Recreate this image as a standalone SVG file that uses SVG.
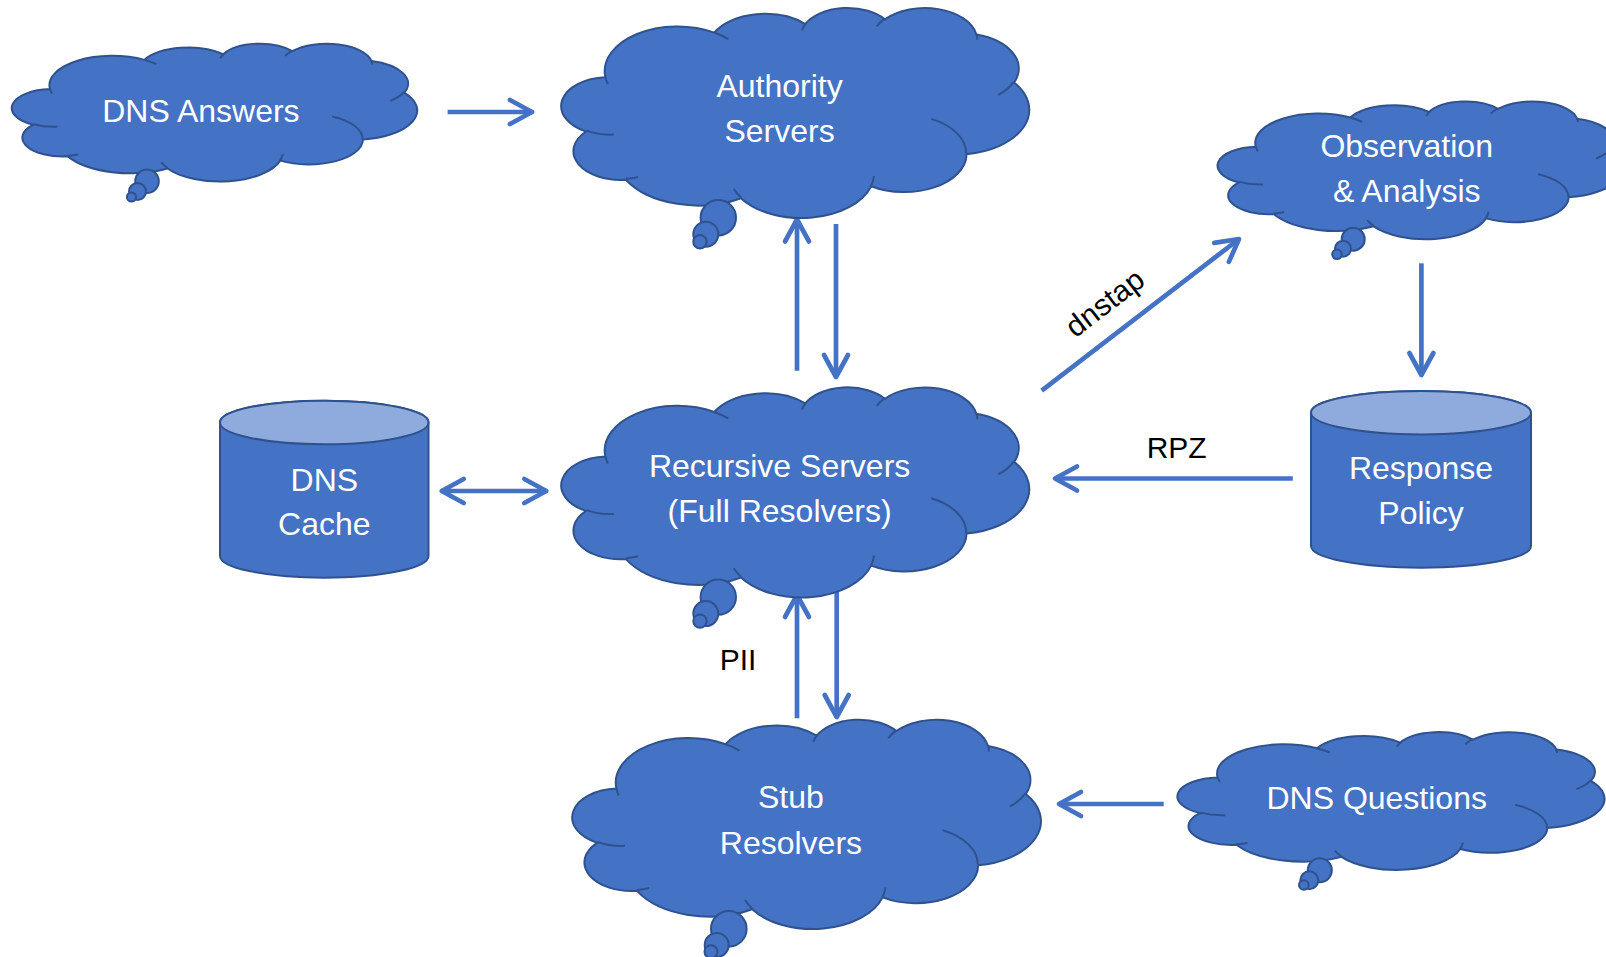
<svg xmlns="http://www.w3.org/2000/svg" width="1606" height="957" viewBox="0 0 1606 957">
<defs>
<style>
.cl{fill:#4472C4;stroke:#2F528F;stroke-width:2}
.ci{fill:none;stroke:#2F528F;stroke-width:2}
.bb{fill:#4472C4;stroke:#2F528F;stroke-width:2}
.cyl{fill:#4472C4;stroke:#2F528F;stroke-width:2}
.cyt{fill:#8FAADC;stroke:#2F528F;stroke-width:2}
.t{font-family:"Liberation Sans",Arial,sans-serif;font-size:32px;fill:#ffffff;text-anchor:middle}
.lb{font-family:"Liberation Sans",Arial,sans-serif;font-size:30px;fill:#000000;text-anchor:middle}
.cn{fill:none;stroke:#4472C4;stroke-width:4.7}
</style>
<path id="cloudO" vector-effect="non-scaling-stroke" d="M9.03 33.26 A15.63 21.27 0 0 1 32.42 12.04 A12.34 16.82 0 0 1 51.98 7.95 A10.10 13.76 0 0 1 69.06 5.75 A11.24 15.27 0 0 1 88.70 12.91 A12.34 16.84 0 0 1 96.81 35.79 A15.68 21.34 0 0 1 86.59 69.92 A13.39 18.21 0 0 1 66.10 85.22 A15.63 21.33 0 0 1 38.15 90.90 A17.87 24.41 0 0 1 13.44 82.11 A10.09 13.70 0 0 1 4.89 59.15 A10.06 13.76 0 0 1 9.03 33.26 Z"/>
<path id="cloudI" vector-effect="non-scaling-stroke" d="M10.86 60.59 A10.06 13.76 0 0 1 5.00 58.75 M16.04 80.78 A10.09 13.70 0 0 1 13.47 81.67 M38.14 90.49 A15.63 21.33 0 0 1 36.60 86.46 M66.73 80.44 A15.63 21.33 0 0 1 66.11 84.86 M79.00 53.13 A13.39 18.21 0 0 1 86.52 69.65 M96.75 35.54 A12.34 16.84 0 0 1 93.40 41.74 M88.71 12.56 A11.24 15.27 0 0 1 88.89 15.48 M67.31 9.15 A11.24 15.27 0 0 1 69.03 5.42 M51.25 10.93 A10.10 13.76 0 0 1 52.08 7.71 M32.41 12.02 A15.63 21.27 0 0 1 35.41 15.13 M9.55 36.55 A15.63 21.27 0 0 1 9.03 33.26"/>
<marker id="ah" markerUnits="userSpaceOnUse" orient="auto-start-reverse" refX="0" refY="0" markerWidth="40" markerHeight="40" overflow="visible">
<path d="M-22 -12 L0 0 L-22 12" fill="none" stroke="#4472C4" stroke-width="4.7" stroke-linecap="round" stroke-linejoin="round"/>
</marker>
</defs>
<rect width="1606" height="957" fill="#ffffff"/>

<g id="connectors">
<path class="cn" marker-end="url(#ah)" d="M447.6 112 L532 112"/>
<path class="cn" marker-end="url(#ah)" d="M797 370.7 L797 219.5"/>
<path class="cn" marker-end="url(#ah)" d="M836 224 L836 377"/>
<path class="cn" marker-end="url(#ah)" d="M1041.7 390.7 L1239 239"/>
<path class="cn" marker-end="url(#ah)" d="M1421.4 263.3 L1421.4 375"/>
<path class="cn" marker-end="url(#ah)" d="M1292.8 478.5 L1055 478.5"/>
<path class="cn" marker-start="url(#ah)" marker-end="url(#ah)" d="M441.7 491 L546.3 491"/>
<path class="cn" marker-end="url(#ah)" d="M797 718.3 L797 595"/>
<path class="cn" marker-end="url(#ah)" d="M836.7 590 L836.7 717"/>
<path class="cn" marker-end="url(#ah)" d="M1163.7 804 L1059 804"/>
<text class="lb" transform="translate(1111 311) rotate(-37.5)">dnstap</text>
<text class="lb" x="1176.7" y="458.3">RPZ</text>
<text class="lb" x="738" y="670">PII</text>
</g>

<g id="node-dns-answers">
<use href="#cloudO" class="cl" transform="translate(13.6 43.3) scale(4.034 1.377)"/>
<use href="#cloudI" class="ci" transform="translate(13.6 43.3) scale(4.034 1.377)"/>
<circle class="bb" cx="147" cy="181.3" r="11.8"/>
<circle class="bb" cx="137.5" cy="191.5" r="8.5"/>
<circle class="bb" cx="131.5" cy="197" r="4.6"/>
<text class="t" x="200.9" y="121.7">DNS Answers</text>
</g>

<g id="node-authority">
<use href="#cloudO" class="cl" transform="translate(563.3 7.3) scale(4.657 2.10)"/>
<use href="#cloudI" class="ci" transform="translate(563.3 7.3) scale(4.657 2.10)"/>
<circle class="bb" cx="718.3" cy="217.7" r="17.7"/>
<circle class="bb" cx="705.8" cy="234.2" r="12.5"/>
<circle class="bb" cx="700" cy="241.7" r="6.7"/>
<text class="t" x="779.6" y="96.7">Authority</text>
<text class="t" x="779.6" y="141.7">Servers</text>
</g>

<g id="node-observation">
<use href="#cloudO" class="cl" transform="translate(1219.4 101) scale(4.034 1.377)"/>
<use href="#cloudI" class="ci" transform="translate(1219.4 101) scale(4.034 1.377)"/>
<circle class="bb" cx="1353.2" cy="239.2" r="11.5"/>
<circle class="bb" cx="1343" cy="248.7" r="8"/>
<circle class="bb" cx="1337" cy="254.3" r="4.8"/>
<text class="t" x="1406.7" y="156.7">Observation</text>
<text class="t" x="1406.7" y="201.7">&amp; Analysis</text>
</g>

<g id="node-recursive">
<use href="#cloudO" class="cl" transform="translate(563.3 386.7) scale(4.657 2.10)"/>
<use href="#cloudI" class="ci" transform="translate(563.3 386.7) scale(4.657 2.10)"/>
<circle class="bb" cx="718.3" cy="597.1" r="17.7"/>
<circle class="bb" cx="705.8" cy="613.6" r="12.5"/>
<circle class="bb" cx="700" cy="621.1" r="6.7"/>
<text class="t" x="779.6" y="476.7">Recursive Servers</text>
<text class="t" x="779.6" y="521.7">(Full Resolvers)</text>
</g>

<g id="node-dns-cache">
<path class="cyl" d="M220 422.5 A104.25 21.8 0 0 1 428.5 422.5 L428.5 555.9 A104.25 21.8 0 0 1 220 555.9 Z"/>
<ellipse class="cyt" cx="324.25" cy="422.5" rx="104.25" ry="21.8"/>
<text class="t" x="324.3" y="491">DNS</text>
<text class="t" x="324.3" y="535">Cache</text>
</g>

<g id="node-response-policy">
<path class="cyl" d="M1311 412.7 A110 21.7 0 0 1 1531 412.7 L1531 546 A110 21.7 0 0 1 1311 546 Z"/>
<ellipse class="cyt" cx="1421" cy="412.7" rx="110" ry="21.7"/>
<text class="t" x="1421" y="479">Response</text>
<text class="t" x="1421" y="524.3">Policy</text>
</g>

<g id="node-stub">
<use href="#cloudO" class="cl" transform="translate(574.3 719) scale(4.664 2.093)"/>
<use href="#cloudI" class="ci" transform="translate(574.3 719) scale(4.664 2.093)"/>
<circle class="bb" cx="728.8" cy="928.8" r="17.8"/>
<circle class="bb" cx="716.7" cy="945" r="12"/>
<circle class="bb" cx="711" cy="951.7" r="6.5"/>
<text class="t" x="790.9" y="808.3">Stub</text>
<text class="t" x="790.9" y="854">Resolvers</text>
</g>

<g id="node-dns-questions">
<use href="#cloudO" class="cl" transform="translate(1179.3 731.7) scale(4.25 1.377)"/>
<use href="#cloudI" class="ci" transform="translate(1179.3 731.7) scale(4.25 1.377)"/>
<circle class="bb" cx="1319.8" cy="870.3" r="12"/>
<circle class="bb" cx="1309.3" cy="880.3" r="9"/>
<circle class="bb" cx="1303.8" cy="885" r="4.8"/>
<text class="t" x="1376.7" y="809">DNS Questions</text>
</g>
</svg>
